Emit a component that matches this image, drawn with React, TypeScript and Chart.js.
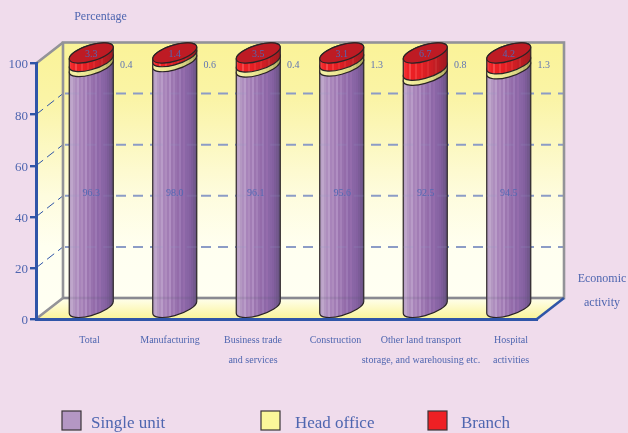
import React, { useEffect, useRef } from "react";
import { Chart, registerables } from "chart.js";

Chart.register(...registerables);

const categories: (string | string[])[] = [
  "Total",
  "Manufacturing",
  ["Business trade", "and services"],
  "Construction",
  ["Other land transport", "storage, and warehousing etc."],
  ["Hospital", "activities"],
];
const singleUnit = [96.3, 98.0, 96.1, 95.6, 92.5, 94.5];
const headOffice = [0.4, 0.6, 0.4, 1.3, 0.8, 1.3];
const branch = [3.3, 1.4, 3.5, 3.1, 6.7, 4.2];
const yTicks = [0, 20, 40, 60, 80, 100];

const PINK = "#F0DCEC";
const TEXT = "#4F66B0";
const BLUE = "#2F55A8";
const GREY = "#939398";
const SERIF = "'Liberation Serif', serif";

const DX = 27; // depth of the box
const DY = -21;
const labelNudge = [11.75, 8.75, 8.25, 7.25, 9.25, 15.75];
const singleNudge = [0, 0, -2.5, 0.5, 0.5, 0];

const purpleStripes = ["#B9A0C6","#BFA6CB","#B498C2","#AE8EBE","#B99CC8","#A884BA","#AE8CBE","#A27DB5","#B08EC2","#9C76B0","#A480B8","#9872AE","#946CAA","#9C78B4","#8E68A8","#946CAC","#8A66A6","#8864A4","#8460A0","#7C5C98","#74588E","#6B5585"];
const redStripes = ["#F03A3C","#F22A2C","#EE2226","#F4484A","#EC2024","#EA2024","#F0383A","#E82024","#E41F24","#E82C30","#DC1F24","#D81E24","#DC2A2E","#D01E24","#CC1E24","#C41D24","#C62A2E","#BC1C22","#B41C22","#AE1C22","#A81B22","#A01B20"];
const yellowStripes = ["#F2EEA0","#F4F0A4","#F0EC9C","#EEEA98","#ECE894","#E8E490","#E4E08C","#DEDA86","#D6D280","#CCC878","#BEBA6C","#ADA960"];

function stripeGradient(ctx: CanvasRenderingContext2D, x0: number, x1: number, colors: string[]) {
  const g = ctx.createLinearGradient(x0, 0, x1, 0);
  colors.forEach((c, i) => {
    g.addColorStop(i / colors.length, c);
    g.addColorStop((i + 1) / colors.length, c);
  });
  return g;
}

const ROT = (-17 * Math.PI) / 180;
const MINOR = 8;
const MAJOR_RATIO = 1.04;

function segment(ctx: CanvasRenderingContext2D, cx: number, yBottom: number, yTop: number, hw: number, colors: string[]) {
  const major = hw * MAJOR_RATIO;
  const t0 = Math.atan(-(MINOR / major) * Math.tan(ROT));
  ctx.beginPath();
  ctx.ellipse(cx, yBottom, major, MINOR, ROT, t0, t0 + Math.PI, false);
  ctx.ellipse(cx, yTop, major, MINOR, ROT, t0 + Math.PI, t0 + 2 * Math.PI, false);
  ctx.closePath();
  ctx.fillStyle = stripeGradient(ctx, cx - hw, cx + hw, colors);
  ctx.fill();
  ctx.lineWidth = 1.2;
  ctx.strokeStyle = "#2A2426";
  ctx.stroke();
}

const scenery = {
  id: "scenery",
  beforeDraw(chart: any) {
    const { ctx, scales } = chart;
    const x = scales.x;
    const y = scales.y;
    const L = x.left, R = x.right, B = y.getPixelForValue(0), T = y.getPixelForValue(100);
    ctx.save();
    const wall = ctx.createLinearGradient(0, T + DY, 0, B + DY);
    wall.addColorStop(0, "#FAF398");
    wall.addColorStop(0.22, "#FAF4A6");
    wall.addColorStop(0.6, "#FEFCDE");
    wall.addColorStop(0.8, "#FFFFF0");
    wall.addColorStop(1, "#FFFFF2");
    ctx.fillStyle = wall;
    ctx.fillRect(L + DX, T + DY, R - L, B - T);
    ctx.beginPath();
    ctx.moveTo(L, T); ctx.lineTo(L + DX, T + DY); ctx.lineTo(L + DX, B + DY); ctx.lineTo(L, B);
    ctx.closePath();
    ctx.fill();
    const floor = ctx.createLinearGradient(0, B + DY, 0, B);
    floor.addColorStop(0, "#FFFFEE");
    floor.addColorStop(1, "#FAF398");
    ctx.fillStyle = floor;
    ctx.beginPath();
    ctx.moveTo(L, B); ctx.lineTo(L + DX, B + DY); ctx.lineTo(R + DX, B + DY); ctx.lineTo(R, B);
    ctx.closePath();
    ctx.fill();

    // dashed gridlines on the back wall and the left wall
    yTicks.slice(1, -1).forEach((v) => {
      const py = y.getPixelForValue(v);
      ctx.setLineDash([10, 7]);
      ctx.lineWidth = 2;
      ctx.strokeStyle = "#8C9CC6";
      ctx.beginPath();
      ctx.moveTo(L + DX + 2, py + DY);
      ctx.lineTo(R + DX, py + DY);
      ctx.stroke();
      ctx.setLineDash([9, 5]);
      ctx.lineWidth = 1;
      ctx.strokeStyle = BLUE;
      ctx.beginPath();
      ctx.moveTo(L, py);
      ctx.lineTo(L + DX, py + DY);
      ctx.stroke();
    });
    ctx.setLineDash([]);

    // grey frame
    ctx.strokeStyle = GREY;
    ctx.lineWidth = 2.6;
    ctx.lineJoin = "miter";
    ctx.strokeRect(L + DX, T + DY, R - L, B - T);
    ctx.beginPath();
    ctx.moveTo(L, T); ctx.lineTo(L + DX, T + DY);
    ctx.moveTo(L, B); ctx.lineTo(L + DX, B + DY);
    ctx.stroke();
    ctx.strokeStyle = BLUE;
    ctx.lineWidth = 2.6;
    ctx.beginPath();
    ctx.moveTo(R, B); ctx.lineTo(R + DX, B + DY);
    ctx.stroke();
    ctx.restore();

    // tick labels sit unevenly under the bars in the reference
    const items = x.getLabelItems();
    if (!(items as any).nudged) {
      items.forEach((it: any, i: number) => { it.options.translation[0] += labelNudge[i]; });
      (items as any).nudged = true;
    }
  },
};

const cylinders = {
  id: "cylinders",
  afterDatasetsDraw(chart: any) {
    const { ctx, scales } = chart;
    const y = scales.y;
    const m0 = chart.getDatasetMeta(0).data;
    const m1 = chart.getDatasetMeta(1).data;
    const m2 = chart.getDatasetMeta(2).data;
    const ox = DX / 2, oy = DY / 2;
    ctx.save();
    categories.forEach((_, i) => {
      const cx = m0[i].x + ox;
      const hw = m0[i].width / 2;
      const top = m2[i].y + oy;
      const redBase = m2[i].base + oy;
      const yellowBase = Math.max(m1[i].base + oy, redBase + 5);
      segment(ctx, cx, m0[i].base + oy, yellowBase, hw, purpleStripes);
      segment(ctx, cx, yellowBase, redBase, hw, yellowStripes);
      segment(ctx, cx, redBase, top, hw, redStripes);
      ctx.beginPath();
      ctx.ellipse(cx, top, hw * MAJOR_RATIO, MINOR, ROT, 0, 2 * Math.PI);
      ctx.fillStyle = "#BE1B24";
      ctx.fill();
      ctx.lineWidth = 1.2;
      ctx.strokeStyle = "#2A2426";
      ctx.stroke();
    });

    // the frame and gridlines show faintly through the bars
    const L = scales.x.left, R = scales.x.right;
    ctx.globalAlpha = 0.16;
    ctx.strokeStyle = "#5A5A70";
    ctx.lineWidth = 2.4;
    ctx.beginPath();
    ctx.moveTo(L + DX, y.getPixelForValue(0) + DY);
    ctx.lineTo(R + DX, y.getPixelForValue(0) + DY);
    ctx.stroke();
    categories.forEach((_, i) => {
      const cx = m0[i].x + ox;
      const hw = m0[i].width / 2;
      yTicks.slice(1, -1).forEach((v) => {
        const py = y.getPixelForValue(v) + DY;
        ctx.setLineDash([10, 7]);
        ctx.lineWidth = 2;
        ctx.strokeStyle = "#8C9CC6";
        ctx.beginPath();
        ctx.moveTo(cx - hw, py);
        ctx.lineTo(cx + hw, py);
        ctx.stroke();
      });
    });
    ctx.setLineDash([]);
    ctx.globalAlpha = 1;

    // value labels
    ctx.font = `10px ${SERIF}`;
    ctx.textAlign = "center";
    ctx.textBaseline = "middle";
    categories.forEach((_, i) => {
      const cx = m0[i].x + ox;
      ctx.fillStyle = "#5468B4";
      ctx.fillText(singleUnit[i].toFixed(1), cx + singleNudge[i], y.getPixelForValue(49));
      ctx.fillText(branch[i].toFixed(1), cx, m2[i].y + oy + 1.5);
      ctx.fillStyle = "#6074B4";
      ctx.fillText(headOffice[i].toFixed(1), cx + 35, y.getPixelForValue(100) + 1.5);
    });

    // axis captions
    ctx.fillStyle = TEXT;
    ctx.font = `12px ${SERIF}`;
    ctx.fillText("Percentage", 100.5, 17);
    ctx.fillText("Economic", 602, 279);
    ctx.fillText("activity", 602, 303);

    // legend
    const swatches = [62, 261, 428];
    const textX = [91, 295, 461];
    ctx.font = `17px ${SERIF}`;
    ctx.textAlign = "left";
    chart.data.datasets.forEach((d: any, i: number) => {
      ctx.fillStyle = d.swatch;
      ctx.fillRect(swatches[i], 411, 19, 19);
      ctx.strokeStyle = "#3A3438";
      ctx.lineWidth = 1.2;
      ctx.strokeRect(swatches[i], 411, 19, 19);
      ctx.fillStyle = TEXT;
      ctx.fillText(d.label, textX[i], 423.5);
    });
    ctx.restore();
  },
};

export default function App() {
  const ref = useRef<HTMLCanvasElement>(null);
  useEffect(() => {
    const chart = new Chart(ref.current as HTMLCanvasElement, {
      type: "bar",
      data: {
        labels: categories as any,
        datasets: [
          { label: "Single unit", data: singleUnit, swatch: "#B497C4" },
          { label: "Head office", data: headOffice, swatch: "#FBF79A" },
          { label: "Branch", data: branch, swatch: "#EE2024" },
        ].map((d) => ({
          ...d,
          backgroundColor: "rgba(0,0,0,0)",
          borderWidth: 0,
          barThickness: 44,
        })) as any,
      },
      options: {
        responsive: false,
        animation: false,
        layout: { padding: { top: 63.5, right: 91, left: 0, bottom: 0 } },
        plugins: { legend: { display: false }, tooltip: { enabled: false } },
        scales: {
          x: {
            stacked: true,
            grid: { display: false, drawTicks: false },
            border: { display: true, color: BLUE, width: 3 },
            ticks: {
              autoSkip: false,
              maxRotation: 0,
              minRotation: 0,
              padding: 11.5,
              color: TEXT,
              font: { family: SERIF, size: 10, lineHeight: 2 },
            },
            afterFit: (s: any) => { s.height = 433 - 319; },
          },
          y: {
            stacked: true,
            min: 0,
            max: 100,
            grid: { drawOnChartArea: false, drawTicks: true, tickLength: 6, color: BLUE, lineWidth: 2.4 },
            border: { display: true, color: BLUE, width: 3 },
            ticks: {
              stepSize: 20,
              padding: 2,
              labelOffset: 1.5,
              color: TEXT,
              font: { family: SERIF, size: 13 },
            },
            afterFit: (s: any) => { s.width = 36; },
          },
        },
      },
      plugins: [scenery, cylinders],
    } as any);
    return () => chart.destroy();
  }, []);
  return (
    <div style={{ position: "fixed", left: 0, top: 0, width: 628, height: 433, background: PINK }}>
      <canvas ref={ref} width={628} height={433} style={{ display: "block" }} />
    </div>
  );
}
